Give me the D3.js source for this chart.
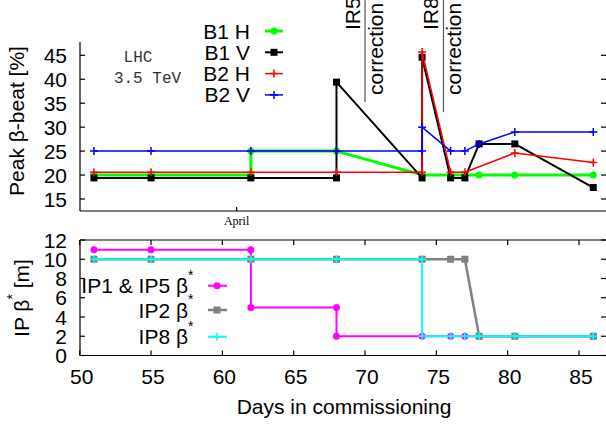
<!DOCTYPE html>
<html><head><meta charset="utf-8">
<script src="https://cdn.jsdelivr.net/npm/d3@7"></script>
<style>body{margin:0;background:#fff}svg{display:block}</style>
</head><body>
<script>
// ---- data ----
const b1hDays = [51,55,62,62,68,74,76,77,78,80.5,86];
const b1hVals = [20,20,20,25,25,20,20,20,20,20,20];
const b1vDays = [51,55,62,68,68,74,74,76,77,78,80.5,86];
const b1vVals = [19.4,19.4,19.4,19.4,39.4,19.4,44.6,19.4,19.4,26.5,26.5,17.4];
const b2hDays = [51,55,62,68,74,74,76,77,80.5,86];
const b2hVals = [20.6,20.6,20.6,20.6,20.6,45.7,20.6,20.6,24.6,22.6];
const b2vDays = [51,55,62,68,74,74,76,77,78,80.5,86];
const b2vVals = [25,25,25,25,25,30,25,25,26.5,29,29];

const ip15Days = [51,55,62,62,68,68,74,76,77,78,80.5,86];
const ip15Vals = [11,11,11,5,5,2,2,2,2,2,2,2];
const ip2Days = [51,55,62,68,74,76,77,78,80.5,86];
const ip2Vals = [10,10,10,10,10,10,10,2,2,2];
const ip8Days = [51,55,62,68,74,74,76,77,78,80.5,86];
const ip8Vals = [10,10,10,10,10,2,2,2,2,2,2];

const xTicks = [50,55,60,65,70,75,80,85];
const topYTicks = [15,20,25,30,35,40,45];
const botYTicks = [0,2,4,6,8,10,12];
const corrDays = [70,75.5];
const corrLabels = ["IR5","IR8"];
const aprilDay = 61;

// ---- layout ----
const SANS = "'Liberation Sans', Arial, sans-serif";
const W = 606, H = 426;
const svg = d3.select("body").append("svg").attr("width", W).attr("height", H).style("font-family", SANS);
const x = d3.scaleLinear().domain([50, 87]).range([79.7, 79.7 + 37 * 14.266]);
const yT = d3.scaleLinear().domain([15, 45]).range([199, 55.3]);
const yB = d3.scaleLinear().domain([0, 12]).range([355.5, 240]);
const L = 80, R = 606;
const topT = 42, topB = 211, botT = 240, botB = 355.5;

const ax = svg.append("g").attr("stroke", "#000").attr("stroke-width", 1.2).attr("fill", "none");
ax.append("line").attr("x1", L).attr("x2", L).attr("y1", topT).attr("y2", topB);
ax.append("line").attr("x1", L).attr("x2", R).attr("y1", topB).attr("y2", topB);
topYTicks.forEach(v => {
  ax.append("line").attr("x1", L).attr("x2", L + 5).attr("y1", yT(v)).attr("y2", yT(v));
  ax.append("line").attr("x1", R - 5).attr("x2", R).attr("y1", yT(v)).attr("y2", yT(v));
});
ax.append("line").attr("x1", x(aprilDay)).attr("x2", x(aprilDay)).attr("y1", topB).attr("y2", topB - 4);
ax.append("line").attr("x1", L).attr("x2", L).attr("y1", botT).attr("y2", botB);
ax.append("line").attr("x1", L).attr("x2", R).attr("y1", botT).attr("y2", botT);
ax.append("line").attr("x1", L).attr("x2", R).attr("y1", botB).attr("y2", botB);
botYTicks.forEach(v => {
  ax.append("line").attr("x1", L).attr("x2", L + 5).attr("y1", yB(v)).attr("y2", yB(v));
  ax.append("line").attr("x1", R - 5).attr("x2", R).attr("y1", yB(v)).attr("y2", yB(v));
});
xTicks.forEach(v => {
  ax.append("line").attr("x1", x(v)).attr("x2", x(v)).attr("y1", botT).attr("y2", botT + 5);
  ax.append("line").attr("x1", x(v)).attr("x2", x(v)).attr("y1", botB).attr("y2", botB - 5);
});

const fs = 21;
topYTicks.forEach(v => svg.append("text").attr("x", 67).attr("y", yT(v) + 7.5).attr("text-anchor", "end").attr("font-size", fs).text(v));
botYTicks.forEach(v => svg.append("text").attr("x", 67).attr("y", yB(v) + 7.5).attr("text-anchor", "end").attr("font-size", fs).text(v));
xTicks.forEach(v => svg.append("text").attr("x", x(v) + 2).attr("y", 383.5).attr("text-anchor", "middle").attr("font-size", fs).text(v));

svg.append("text").attr("transform", "translate(24,121) rotate(-90)").attr("text-anchor", "middle").attr("font-size", fs).text("Peak β-beat [%]");
const bt = svg.append("text").attr("transform", "translate(29,298) rotate(-90)").attr("text-anchor", "middle").attr("font-size", fs);
bt.append("tspan").text("IP β");
bt.append("tspan").attr("dy", -12).attr("font-size", 14).text("*");
bt.append("tspan").attr("dy", 12).text(" [m]");
svg.append("text").attr("x", 344).attr("y", 414).attr("text-anchor", "middle").attr("font-size", fs).text("Days in commissioning");
svg.append("text").attr("x", x(aprilDay)).attr("y", 225).attr("text-anchor", "middle").attr("font-size", 12).style("font-family", "'Liberation Serif', serif").text("April");

svg.append("text").attr("x", 138).attr("y", 62).attr("text-anchor", "middle").attr("font-size", 16).style("font-family", "'Liberation Mono', monospace").attr("fill", "#333").text("LHC");
svg.append("text").attr("x", 147.5).attr("y", 83).attr("text-anchor", "middle").attr("font-size", 16).style("font-family", "'Liberation Mono', monospace").attr("fill", "#333").text("3.5 TeV");

const corrLen = [102, 112];
corrDays.forEach((d, i) => {
  const cx = x(d);
  svg.append("line").attr("x1", cx).attr("x2", cx).attr("y1", 0).attr("y2", corrLen[i]).attr("stroke", "#555").attr("stroke-width", 1.2);
  svg.append("text").attr("transform", `translate(${cx - 5},30) rotate(-90)`).attr("font-size", fs).text(corrLabels[i]);
  svg.append("text").attr("transform", `translate(${cx + 18},95) rotate(-90)`).attr("font-size", fs).text("correction");
});

function marker(g, type, color, px, py) {
  if (type === "circle") g.append("circle").attr("cx", px).attr("cy", py).attr("r", 3.5).attr("fill", color);
  else if (type === "square") {
    g.append("rect").attr("x", px - 3.5).attr("y", py - 3.5).attr("width", 7).attr("height", 7).attr("fill", color);
  } else if (type === "plus") {
    g.append("path").attr("d", `M${px - 4},${py}H${px + 4}M${px},${py - 4}V${py + 4}`).attr("stroke", color).attr("stroke-width", 1.5);
  }
}
function series(days, vals, ys, color, w, type) {
  const g = svg.append("g");
  const pts = days.map((d, i) => [x(d), ys(vals[i])]);
  g.append("path").attr("d", d3.line()(pts)).attr("fill", "none").attr("stroke", color).attr("stroke-width", w).attr("stroke-linejoin", "round");
  pts.forEach(p => marker(g, type, color, p[0], p[1]));
}
series(b1hDays, b1hVals, yT, "#00ff00", 3, "circle");
series(b1vDays, b1vVals, yT, "#000000", 2, "square");
series(b2hDays, b2hVals, yT, "#ff0000", 1.5, "plus");
series(b2vDays, b2vVals, yT, "#0000ff", 1.5, "plus");
series(ip15Days, ip15Vals, yB, "#ff00ff", 2, "circle");
series(ip2Days, ip2Vals, yB, "#808080", 2.5, "square");
series(ip8Days, ip8Vals, yB, "#00ffff", 2, "plus");

const topLeg = [["B1 H", "#00ff00", 3, "circle"], ["B1 V", "#000000", 2, "square"], ["B2 H", "#ff0000", 1.5, "plus"], ["B2 V", "#0000ff", 1.5, "plus"]];
topLeg.forEach((e, i) => {
  const cy = 31 + i * 21.3;
  svg.append("text").attr("x", 250).attr("y", cy + 7.5).attr("text-anchor", "end").attr("font-size", fs).text(e[0]);
  const g = svg.append("g");
  g.append("line").attr("x1", 265).attr("x2", 283).attr("y1", cy).attr("y2", cy).attr("stroke", e[1]).attr("stroke-width", e[2]);
  marker(g, e[3], e[1], 274, cy);
});
const botLeg = [["IP1 & IP5 β", "#ff00ff", 2, "circle"], ["IP2 β", "#808080", 2.5, "square"], ["IP8 β", "#00ffff", 2, "plus"]];
botLeg.forEach((e, i) => {
  const cy = [285.7, 310, 336.7][i];
  svg.append("text").attr("x", 188).attr("y", cy + 7.5).attr("text-anchor", "end").attr("font-size", fs).text(e[0]);
  svg.append("text").attr("x", 188).attr("y", cy - 6).attr("font-size", 14).text("*");
  const g = svg.append("g");
  g.append("line").attr("x1", 208).attr("x2", 227).attr("y1", cy).attr("y2", cy).attr("stroke", e[1]).attr("stroke-width", e[2]);
  marker(g, e[3], e[1], 217, cy);
});
</script>
</body></html>
